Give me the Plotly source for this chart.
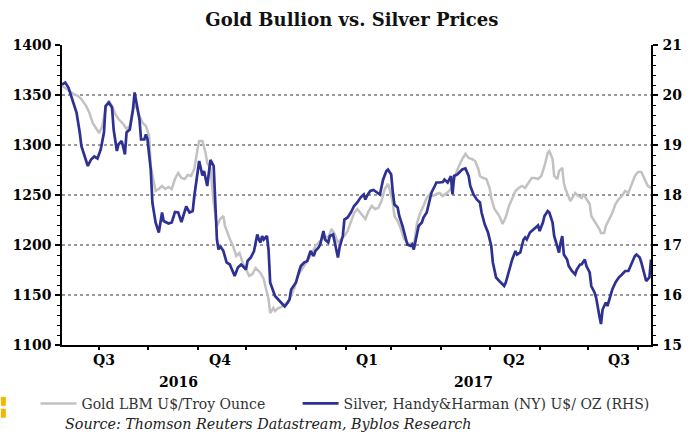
import pandas as pd
import plotly.graph_objects as go

# ---------------- data ----------------
base_date = "2016-08-09"
end_date = "2017-08-09"

# day offsets from base_date and gold price (US$/troy ounce, left axis)
gold_day = [0, 3, 7, 10, 12, 15, 17, 19, 21, 23, 25, 27, 29, 31, 33, 35, 38, 40, 42, 44, 46, 48, 50, 52, 54, 55, 57, 58, 60, 62,
            64, 66, 68, 70, 72, 74, 76, 78, 80, 82, 84, 85, 87, 89, 90, 92,
            94, 96, 98, 100, 101, 103, 104, 106, 108, 110, 112, 114, 116, 118, 120, 123, 125, 126, 128, 129, 131, 132, 134, 136,
            138, 140, 142, 144, 146, 148, 150, 152, 154, 157, 159, 161, 163, 165, 167, 169, 171, 173, 175, 177, 179, 181,
            183, 184, 186, 188, 190, 192, 194, 196, 198, 200, 202, 203, 205, 206, 208, 210, 212, 215, 217, 218, 220, 222, 224, 226,
            228, 230, 232, 234, 236, 238, 240, 242, 244, 246, 248, 250, 252, 254, 256, 258, 259, 261, 263, 265, 266, 268, 271, 273,
            275, 277, 279, 281, 283, 285, 287, 289, 291, 293, 295, 297, 299, 301, 302, 304, 305, 307, 308, 310, 311, 312, 314, 315,
            317, 318, 320, 322, 323, 325, 327, 328, 330, 331, 333, 334, 336, 337, 339, 341, 343, 345, 347, 349, 351, 353, 355, 357,
            359, 361, 363, 365]
gold_price = [1359, 1356, 1351, 1349, 1346, 1339, 1332, 1322, 1317, 1312, 1319, 1337, 1344, 1339, 1331, 1326, 1321, 1316, 1319, 1337,
              1339, 1329, 1322, 1319, 1309, 1279, 1262, 1254, 1256, 1259,
              1256, 1258, 1256, 1266, 1272, 1267, 1266, 1270, 1269, 1276, 1296, 1304, 1304, 1292, 1282, 1277,
              1242, 1219, 1226, 1229, 1219, 1209, 1206, 1199, 1189, 1192, 1182, 1176, 1169, 1171, 1177, 1172, 1166, 1159, 1146, 1132,
              1137, 1134, 1137, 1138,
              1141, 1142, 1149, 1157, 1169, 1174, 1179, 1184, 1189, 1199, 1202, 1206, 1209, 1207, 1216, 1211, 1202, 1206, 1209, 1214,
              1222, 1232,
              1236, 1234, 1229, 1226, 1234, 1239, 1236, 1237, 1244, 1256, 1261, 1256, 1242, 1229, 1224, 1216, 1206, 1201, 1202, 1199,
              1222, 1232, 1239, 1247,
              1251, 1249, 1251, 1252, 1249, 1252, 1254, 1259, 1271, 1279, 1286, 1291, 1287, 1286, 1284, 1276, 1269, 1267, 1266, 1257,
              1247, 1236, 1229, 1221,
              1228, 1239, 1246, 1254, 1257, 1259, 1257, 1262, 1267, 1267, 1266, 1269, 1279, 1292, 1294, 1286, 1269, 1266, 1274, 1277,
              1262, 1256, 1247, 1244,
              1249, 1252, 1249, 1247, 1251, 1246, 1241, 1229, 1224, 1222, 1216, 1212, 1212, 1219, 1226, 1232, 1241, 1246, 1249, 1254,
              1252, 1261, 1269, 1273,
              1273, 1266, 1259, 1257]

# day offsets from base_date and silver price (US$/oz, right axis)
silver_day = [0, 2, 4, 6, 8, 9, 11, 12, 14, 16, 18, 20, 22, 24, 26, 27, 29, 31, 32, 34, 35, 37, 39, 40, 42, 44, 45, 46, 48, 49,
              51, 52, 53, 55, 56, 58, 60, 62, 63, 66, 68, 70, 72, 74, 76, 77, 79, 81, 82, 84, 85, 87, 88, 90, 91, 92,
              94, 95, 96, 97, 98, 100, 102, 104, 106, 107, 109, 111, 112, 114, 115, 117, 119, 121, 122, 123, 124, 125, 127, 128,
              129, 130, 131, 132, 134, 136, 138, 139, 141, 142, 144, 145, 147, 148, 150, 152, 153, 154, 156, 157, 159, 160, 162, 163,
              165, 166, 168, 169, 171, 172, 174, 175, 177, 179, 181,
              183, 185, 187, 188, 189, 191, 193, 195, 197, 199, 201, 202, 204, 205, 206, 208, 209, 211, 213, 214, 216, 217, 218, 220,
              221, 223, 224, 226, 227, 229, 231, 232, 234, 236, 237, 239, 240, 241, 242, 243, 245, 247, 248, 250, 252, 253, 255, 257,
              259, 260, 262, 264, 266, 267, 269, 271, 272, 274,
              275, 277, 279, 281, 282, 284, 286, 287, 288, 290, 292, 293, 295, 296, 298, 299, 301, 302, 304, 305, 307, 308, 309, 310,
              311, 313, 314, 316, 318, 319, 321, 322, 324, 325, 327, 328, 330, 331, 333, 334, 335, 337, 338, 339, 341, 343, 345, 347,
              349, 351, 353, 355, 356, 358, 359, 361, 362, 364, 365]
silver_price = [20.21, 20.25, 20.15, 19.95, 19.78, 19.65, 19.25, 18.98, 18.78, 18.58, 18.71, 18.77, 18.73, 18.91, 19.25, 19.78,
                19.85, 19.75, 19.31, 18.88, 19.01, 19.08, 18.81, 19.25, 19.31, 19.71, 20.05, 19.85, 19.51, 19.11,
                19.11, 19.21, 19.11, 18.51, 17.85, 17.45, 17.25, 17.65, 17.48, 17.43, 17.45, 17.66, 17.65, 17.46, 17.68, 17.77,
                17.65, 17.68, 17.98, 18.51, 18.68, 18.39, 18.48, 18.18, 18.51, 18.70,
                18.58, 17.85, 17.11, 16.91, 16.98, 16.88, 16.65, 16.61, 16.45, 16.38, 16.55, 16.61, 16.58, 16.51, 16.68, 16.75,
                16.88, 17.21, 17.11, 17.05, 17.18, 17.11, 17.18, 16.91,
                16.25, 16.15, 16.08, 15.98, 15.91, 15.85, 15.77, 15.81, 15.91, 16.11, 16.21, 16.25, 16.48, 16.58, 16.65, 16.68,
                16.78, 16.88, 16.78, 16.88, 16.95, 17.01, 17.28, 17.11,
                17.05, 17.18, 17.21, 17.05, 16.75, 16.95, 17.18, 17.51, 17.55, 17.65, 17.78,
                17.85, 17.95, 18.01, 17.91, 17.98, 18.08, 18.10, 18.05, 18.01, 18.31, 18.48, 18.51, 18.41, 18.05, 17.81, 17.75,
                17.58, 17.38, 17.15, 17.01, 16.98, 17.01, 16.91, 17.25,
                17.38, 17.45, 17.55, 17.65, 17.78, 18.05, 18.18, 18.25, 18.25, 18.26, 18.31, 18.25, 18.31, 18.38, 18.01, 18.38,
                18.41, 18.48, 18.51, 18.53, 18.38, 18.18, 18.01, 17.91,
                17.85, 17.65, 17.41, 17.25, 16.98, 16.65, 16.35, 16.28, 16.25, 16.18,
                16.25, 16.51, 16.71, 16.88, 16.81, 16.85, 17.11, 17.15, 17.11, 17.25, 17.31, 17.35, 17.39, 17.28, 17.45, 17.58,
                17.68, 17.65, 17.45, 17.18, 16.95, 16.85, 17.05, 17.18,
                16.81, 16.71, 16.58, 16.48, 16.41, 16.51, 16.61, 16.61, 16.71, 16.58, 16.45, 16.18, 16.05, 15.95, 15.58, 15.42,
                15.71, 15.85, 15.78, 15.91, 16.11, 16.25, 16.35, 16.41,
                16.48, 16.48, 16.65, 16.78, 16.81, 16.75, 16.65, 16.38, 16.28, 16.35, 16.71]

month_ticks = ["2016-09-01", "2016-10-01", "2016-11-01", "2016-12-01", "2017-01-01", "2017-02-01",
               "2017-03-01", "2017-04-01", "2017-05-01", "2017-06-01", "2017-07-01", "2017-08-01"]
quarter_labels = ["Q3", "Q4", "Q1", "Q2", "Q3"]
quarter_pos = ["2016-09-04", "2016-11-15", "2017-02-14", "2017-05-16", "2017-07-20"]
year_labels = ["2016", "2017"]
year_pos = ["2016-10-20", "2017-04-21"]

gold_name = "Gold LBM U$/Troy Ounce"
silver_name = "Silver, Handy&Harman (NY) U$/ OZ (RHS)"

# ---------------- figure ----------------
FONT = "DejaVu Serif"
base = pd.Timestamp(base_date)
gold_dates = base + pd.to_timedelta(gold_day, unit="D")
silver_dates = base + pd.to_timedelta(silver_day, unit="D")

fig = go.Figure()
fig.add_trace(go.Scatter(x=gold_dates, y=gold_price, mode="lines", name=gold_name,
                         line=dict(color="#C2C2C2", width=2.5), yaxis="y", legend="legend"))
fig.add_trace(go.Scatter(x=silver_dates, y=silver_price, mode="lines", name=silver_name,
                         line=dict(color="#2E3192", width=2.7), yaxis="y2", legend="legend2"))

tickfont = dict(family=FONT, size=14, color="black", weight="bold")
legfont = dict(family=FONT, size=14, color="#333333")

fig.update_layout(
    width=694, height=432,
    margin=dict(l=62, r=34, t=45, b=86),
    paper_bgcolor="white", plot_bgcolor="white",
    title=dict(text="Gold Bullion vs. Silver Prices", x=0.507, xanchor="center", y=0.954, yanchor="middle",
               font=dict(family=FONT, size=18, color="#111111", weight="bold")),
    xaxis=dict(type="date", range=[base_date, end_date], tickvals=month_ticks,
               ticktext=["" for _ in month_ticks], ticks="outside", ticklen=3, tickwidth=1.5,
               tickcolor="black", showline=True, linecolor="black", linewidth=1.5,
               showgrid=False, zeroline=False),
    yaxis=dict(range=[1100, 1400], tick0=1100, dtick=50, ticks="outside", ticklen=5, tickwidth=1.5,
               tickcolor="black", showline=True, linecolor="black", linewidth=1.5, zeroline=False,
               showgrid=True, gridcolor="#9A9A9A", griddash="dot", gridwidth=1.5,
               tickfont=tickfont, ticklabelstandoff=1,
               minor=dict(dtick=10, tick0=1100, ticks="outside", ticklen=3, tickcolor="black", tickwidth=1,
                          showgrid=False)),
    yaxis2=dict(range=[15, 21], tick0=15, dtick=1, overlaying="y", side="right", ticks="outside", ticklen=5,
                tickwidth=1.5, tickcolor="black", showline=True, linecolor="black", linewidth=1.5,
                zeroline=False, showgrid=False, tickfont=tickfont, ticklabelstandoff=2,
                minor=dict(dtick=0.2, tick0=15, ticks="outside", ticklen=3, tickcolor="black", tickwidth=1,
                           showgrid=False)),
    legend=dict(orientation="h", x=-0.045, xanchor="left", y=-0.196, yanchor="middle",
                font=legfont, bgcolor="rgba(0,0,0,0)", itemwidth=36),
    legend2=dict(orientation="h", x=0.40, xanchor="left", y=-0.196, yanchor="middle",
                 font=legfont, bgcolor="rgba(0,0,0,0)", itemwidth=36),
    showlegend=True,
)

annotations = []
for lab, pos in zip(quarter_labels, quarter_pos):
    annotations.append(dict(text=lab, x=pos, xref="x", y=-0.050, yref="paper", xanchor="center",
                            yanchor="middle", showarrow=False, font=tickfont))
for lab, pos in zip(year_labels, year_pos):
    annotations.append(dict(text=lab, x=pos, xref="x", y=-0.123, yref="paper", xanchor="center",
                            yanchor="middle", showarrow=False, font=tickfont))
annotations.append(dict(text="Source: Thomson Reuters Datastream, Byblos Research", x=0.002, xref="paper",
                        y=-0.262, yref="paper", xanchor="left", yanchor="middle", showarrow=False,
                        font=dict(family=FONT, size=14.3, color="#222222", style="italic")))
fig.update_layout(annotations=annotations)

# small yellow marks at the left edge of the reference image
fig.add_shape(type="rect", xref="paper", yref="paper", x0=-0.1037, x1=-0.0953, y0=-0.2027, y1=-0.1728,
              fillcolor="#F2B705", line=dict(width=0))
fig.add_shape(type="rect", xref="paper", yref="paper", x0=-0.1037, x1=-0.0953, y0=-0.2425, y1=-0.2126,
              fillcolor="#F2B705", line=dict(width=0))

fig.write_html("out.html", config={"displayModeBar": False},
               post_script="document.body.style.margin='0px';document.body.style.padding='0px';")
